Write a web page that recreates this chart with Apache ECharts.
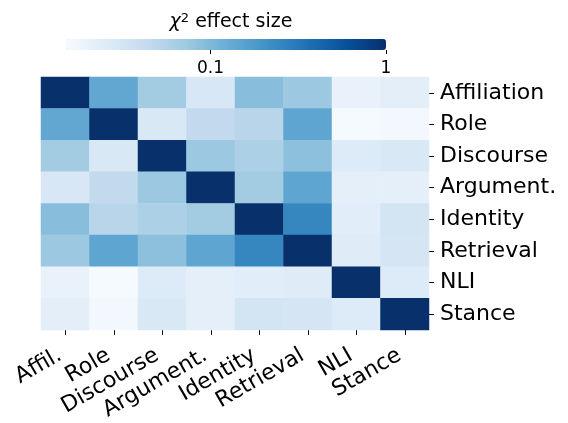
<!DOCTYPE html>
<html lang="en">

<head>
    <meta charset="UTF-8">
    <title>chi2 effect size</title>
    <script src="https://cdn.jsdelivr.net/npm/echarts@6/dist/echarts.min.js"></script>
</head>

<body style="margin:0">
    <div id="container" style="width: 568px; height: 423px;"></div>
    <script>
        // row / column labels
        var rowNames = ['Affiliation', 'Role', 'Discourse', 'Argument.', 'Identity', 'Retrieval', 'NLI', 'Stance'];
        var colNames = ['Affil.', 'Role', 'Discourse', 'Argument.', 'Identity', 'Retrieval', 'NLI', 'Stance'];

        // effect sizes, one array per row (symmetric matrix)
        var affiliation = [1, 0.139, 0.068, 0.029, 0.091, 0.074, 0.020, 0.023];
        var role = [0.139, 1, 0.028, 0.045, 0.051, 0.145, 0.0156, 0.0168];
        var discourse = [0.068, 0.028, 1, 0.074, 0.060, 0.0875, 0.026, 0.028];
        var argument = [0.029, 0.045, 0.074, 1, 0.068, 0.145, 0.022, 0.022];
        var identity = [0.091, 0.051, 0.060, 0.068, 1, 0.25, 0.024, 0.032];
        var retrieval = [0.074, 0.145, 0.0875, 0.145, 0.25, 1, 0.025, 0.031];
        var nli = [0.020, 0.0156, 0.026, 0.022, 0.024, 0.025, 1, 0.026];
        var stance = [0.023, 0.0168, 0.028, 0.022, 0.032, 0.031, 0.026, 1];

        var colorMin = 0.015;
        var colorMax = 1;

        var rows = [affiliation, role, discourse, argument, identity, retrieval, nli, stance];
        var data = [];
        rows.forEach(function (row, r) {
            row.forEach(function (v, c) {
                data.push([c, r, Math.log10(v)]);
            });
        });

        // matplotlib Blues
        var blues = ['#f7fbff', '#deebf7', '#c6dbef', '#9ecae1', '#6baed6', '#4292c6', '#2171b5', '#08519c', '#08306b'];
        var font = 'DejaVu Sans';

        var myCharts = echarts.init(document.querySelector('#container'));
        myCharts.setOption({
            backgroundColor: '#fff',
            animation: false,
            title: {
                text: '{chi|χ}{sup|2} effect size',
                left: 226,
                top: 7,
                textAlign: 'center',
                textStyle: {
                    fontFamily: font, fontSize: 19, fontWeight: 'normal', color: '#000',
                    rich: {
                        chi: { fontFamily: font, fontSize: 19, fontStyle: 'italic', color: '#000' },
                        sup: { fontFamily: font, fontSize: 13, color: '#000', verticalAlign: 'top', padding: [0, 0, 8, 0] }
                    }
                }
            },
            visualMap: {
                type: 'continuous',
                orient: 'horizontal',
                min: Math.log10(colorMin),
                max: Math.log10(colorMax),
                calculable: false,
                left: 66,
                top: 39,
                padding: 0,
                itemWidth: 11,
                itemHeight: 320,
                text: null,
                showLabel: false,
                seriesIndex: 0,
                inRange: { color: blues }
            },
            grid: [
                { left: 41, top: 77, width: 388, height: 254 },
                // colorbar tick axis
                { left: 66, top: 49, width: 320, height: 1 }
            ],
            xAxis: [{
                type: 'category',
                gridIndex: 0,
                data: colNames,
                axisLine: { show: false },
                axisTick: { show: true, alignWithLabel: true, length: 5, lineStyle: { color: '#000' } },
                axisLabel: { interval: 0, rotate: 30, fontFamily: font, fontSize: 22, color: '#000', margin: 21, padding: [0, 6, 0, 0] },
                splitLine: { show: false }
            }, {
                type: 'log',
                gridIndex: 1,
                logBase: 10,
                min: colorMin,
                max: colorMax,
                axisLine: { show: false },
                axisTick: { show: true, length: 4, lineStyle: { color: '#000' } },
                axisLabel: { showMinLabel: false, fontFamily: font, fontSize: 17, color: '#000', margin: 10 },
                minorTick: { show: false },
                splitLine: { show: false }
            }],
            yAxis: [{
                type: 'category',
                gridIndex: 0,
                data: rowNames,
                inverse: true,
                position: 'right',
                axisLine: { show: false },
                axisTick: { show: true, alignWithLabel: true, length: 5, lineStyle: { color: '#000' } },
                axisLabel: { fontFamily: font, fontSize: 22, color: '#000', margin: 11, verticalAlign: 'middle', lineHeight: 22, padding: [8, 0, 0, 0] },
                splitLine: { show: false }
            }, {
                type: 'value',
                gridIndex: 1,
                show: false
            }],
            series: [{
                type: 'heatmap',
                xAxisIndex: 0,
                yAxisIndex: 0,
                data: data,
                itemStyle: { borderWidth: 0 }
            }]
        });
    </script>
</body>

</html>
